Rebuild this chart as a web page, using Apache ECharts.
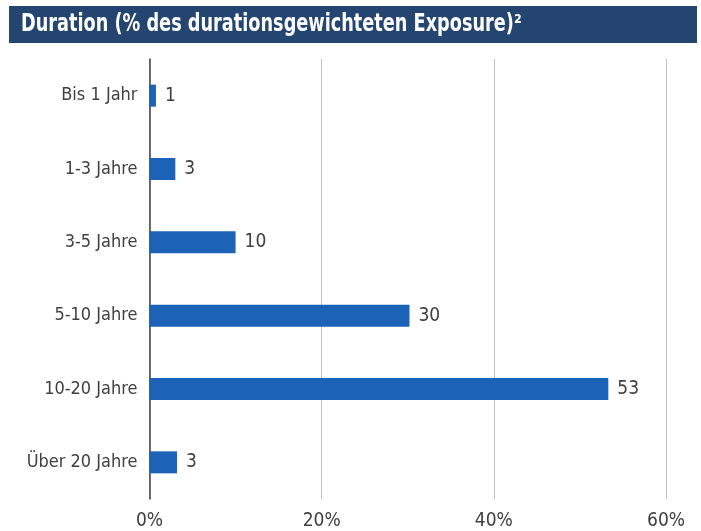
<!DOCTYPE html>
<html>
<head>
<meta charset="utf-8">
<script src="https://cdn.jsdelivr.net/npm/echarts@6/dist/echarts.min.js"></script>
<style>
  html, body { margin: 0; padding: 0; background: #fff; }
  #Duration-Chart { width: 701px; height: 531px; }
</style>
</head>
<body>
<div id="Duration-Chart"></div>
<script>
// Duration (% des durationsgewichteten Exposure)
const categories = ['Bis 1 Jahr', '1-3 Jahre', '3-5 Jahre', '5-10 Jahre', '10-20 Jahre', 'Über 20 Jahre'];
const values = [0.75, 3.0, 10.0, 30.2, 53.3, 3.2];
const xTicks = [0, 20, 40, 60];

const fontName = "'DejaVu Sans Condensed', 'Liberation Sans Narrow', sans-serif";
const textColor = '#404040';

function drawDurationChart() {
    var dom = document.getElementById('Duration-Chart');
    var myChart = echarts.init(dom, null, { renderer: 'canvas' });
    var option;
    option = {
        animation: false,
        graphic: [
            {
                type: 'rect',
                shape: { x: 9, y: 6, width: 688, height: 37 },
                style: { fill: '#24456f' }
            },
            {
                type: 'text',
                x: 21,
                y: 25,
                scaleX: 0.82,
                style: {
                    text: 'Duration (% des durationsgewichteten Exposure)²',
                    fill: '#fff',
                    font: 'bold 24px ' + fontName,
                    verticalAlign: 'middle'
                }
            }
        ],
        grid: {
            left: 149.5,
            right: 35,
            top: 59,
            bottom: 32,
            containLabel: false
        },
        xAxis: {
            type: 'value',
            min: xTicks[0],
            max: xTicks[xTicks.length - 1],
            interval: 20,
            axisLine: { show: false },
            axisTick: { show: false },
            splitLine: { lineStyle: { color: '#bfbfbf', width: 1 } },
            axisLabel: {
                color: textColor,
                fontFamily: fontName,
                fontSize: 19,
                margin: 13,
                formatter: '{value}%'
            }
        },
        yAxis: {
            type: 'category',
            data: categories,
            inverse: true,
            axisLine: { lineStyle: { color: textColor, width: 1.5 } },
            axisTick: { show: false },
            axisLabel: {
                color: textColor,
                fontFamily: fontName,
                fontSize: 18,
                margin: 12
            }
        },
        series: [
            {
                type: 'bar',
                data: values,
                barWidth: '30%',
                itemStyle: { color: '#1c63b7' },
                label: {
                    show: true,
                    position: 'right',
                    distance: 9,
                    color: textColor,
                    fontFamily: fontName,
                    fontSize: 19,
                    formatter: function (p) { return Math.round(p.value); }
                }
            }
        ]
    };

    if (option && typeof option === 'object') {
        myChart.setOption(option);
    }

    window.addEventListener('resize', myChart.resize);
}

drawDurationChart();
</script>
</body>
</html>
